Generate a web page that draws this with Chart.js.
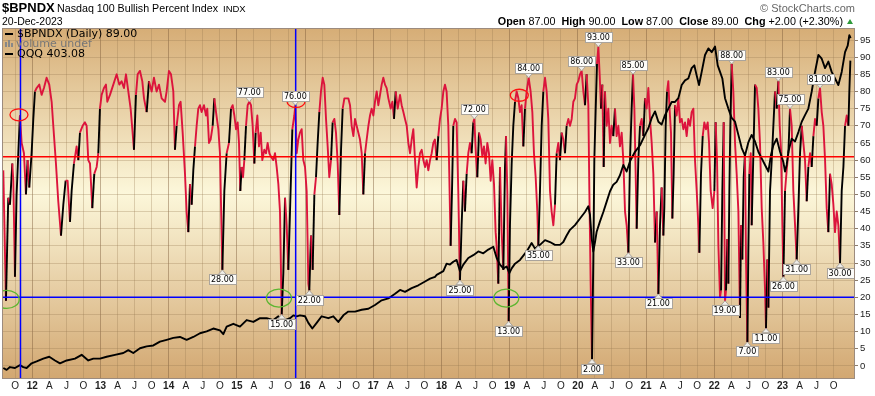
<!DOCTYPE html>
<html>
<head>
<meta charset="utf-8">
<script src="https://cdn.jsdelivr.net/npm/chart.js@4.4.1/dist/chart.umd.min.js"></script>
<style>
html, body { margin: 0; padding: 0; background: #fff; }
#wrap { position: relative; width: 875px; height: 396px; overflow: hidden; }
#c { position: absolute; left: 0; top: 0; }
.tx { position: absolute; white-space: nowrap; line-height: 1; color: #000; font-family: "Liberation Sans", Arial, sans-serif; }
.lg { font-family: "DejaVu Sans", Verdana, sans-serif; font-size: 11px; }
.dash { position: absolute; left: 5px; width: 8px; height: 2px; background: #000; }
.vb { position: absolute; width: 2px; background: #888; }
</style>
</head>
<body>
<div id="wrap">
  <canvas id="c" width="875" height="396"></canvas>
  <div class="tx" style="left:2px;top:0.7px;font-size:13px;font-weight:bold">$BPNDX</div>
  <div class="tx" style="left:57px;top:2.6px;font-size:10.7px">Nasdaq 100 Bullish Percent Index</div>
  <div class="tx" style="left:223px;top:3.7px;font-size:9.5px">INDX</div>
  <div class="tx" style="left:2px;top:16.1px;font-size:10.5px">20-Dec-2023</div>
  <div class="tx" style="right:20px;top:3.4px;font-size:11px;color:#666">© StockCharts.com</div>
  <div class="tx" style="right:32px;top:15.9px;font-size:10.8px"><b>Open</b> 87.00 &nbsp;<b>High</b> 90.00 &nbsp;<b>Low</b> 87.00 &nbsp;<b>Close</b> 89.00 &nbsp;<b>Chg</b> +2.00 (+2.30%)</div>
  <div style="position:absolute;left:847px;top:19px;width:0;height:0;border-left:3.5px solid transparent;border-right:3.5px solid transparent;border-bottom:5px solid #2f9a3a"></div>

  <div class="dash" style="top:33px"></div>
  <div class="tx lg" style="left:17px;top:28px">$BPNDX (Daily) 89.00</div>
  <div class="vb" style="left:5px;top:42px;height:5px"></div>
  <div class="vb" style="left:8px;top:40px;height:7px"></div>
  <div class="vb" style="left:11px;top:43px;height:4px"></div>
  <div class="tx lg" style="left:16px;top:38.2px;color:#777">volume undef</div>
  <div class="dash" style="top:53px"></div>
  <div class="tx lg" style="left:17px;top:48px">QQQ 403.08</div>
</div>
<script>
// $BPNDX daily, read at turning points (decimal year, percent)
const bpDates = [
  2011.575, 2011.614, 2011.648, 2011.673, 2011.707, 2011.722, 2011.746, 2011.770, 2011.795, 2011.819,
  2011.844, 2011.878, 2011.907, 2011.932, 2011.956, 2011.990, 2012.015, 2012.039, 2012.064, 2012.103,
  2012.137, 2012.171, 2012.210, 2012.249, 2012.284, 2012.308, 2012.347, 2012.381, 2012.421, 2012.455,
  2012.489, 2012.518, 2012.553, 2012.577, 2012.611, 2012.650, 2012.675, 2012.699, 2012.738, 2012.772,
  2012.797, 2012.821, 2012.846, 2012.880, 2012.909, 2012.944, 2012.968, 2012.992, 2013.017, 2013.051,
  2013.080, 2013.100, 2013.139, 2013.188, 2013.237, 2013.276, 2013.310, 2013.344, 2013.374, 2013.408,
  2013.442, 2013.467, 2013.491, 2013.520, 2013.545, 2013.579, 2013.613, 2013.638, 2013.677, 2013.711,
  2013.750, 2013.784, 2013.823, 2013.858, 2013.897, 2013.946, 2013.970, 2014.004, 2014.034, 2014.068,
  2014.092, 2014.117, 2014.151, 2014.175, 2014.205, 2014.239, 2014.263, 2014.288, 2014.312, 2014.337,
  2014.361, 2014.386, 2014.410, 2014.434, 2014.459, 2014.483, 2014.517, 2014.547, 2014.566, 2014.591,
  2014.615, 2014.645, 2014.669, 2014.694, 2014.728, 2014.752, 2014.787, 2014.816, 2014.850, 2014.884,
  2014.914, 2014.938, 2014.963, 2014.987, 2015.011, 2015.031, 2015.050, 2015.070, 2015.090, 2015.109,
  2015.134, 2015.158, 2015.182, 2015.207, 2015.231, 2015.256, 2015.275, 2015.300, 2015.324, 2015.349,
  2015.373, 2015.402, 2015.427, 2015.451, 2015.476, 2015.500, 2015.534, 2015.559, 2015.583, 2015.608,
  2015.632, 2015.657, 2015.681, 2015.706, 2015.730, 2015.754, 2015.779, 2015.813, 2015.842, 2015.857,
  2015.877, 2015.901, 2015.925, 2015.950, 2015.974, 2015.999, 2016.023, 2016.048, 2016.062, 2016.087,
  2016.111, 2016.136, 2016.160, 2016.184, 2016.209, 2016.233, 2016.258, 2016.282, 2016.307, 2016.331,
  2016.355, 2016.380, 2016.404, 2016.429, 2016.453, 2016.478, 2016.502, 2016.527, 2016.551, 2016.576,
  2016.610, 2016.634, 2016.659, 2016.683, 2016.708, 2016.732, 2016.756, 2016.781, 2016.805, 2016.830,
  2016.854, 2016.879, 2016.903, 2016.928, 2016.952, 2016.976, 2017.001, 2017.025, 2017.050, 2017.074,
  2017.099, 2017.123, 2017.147, 2017.172, 2017.196, 2017.221, 2017.255, 2017.280, 2017.304, 2017.328,
  2017.358, 2017.392, 2017.416, 2017.441, 2017.465, 2017.490, 2017.514, 2017.539, 2017.563, 2017.587,
  2017.612, 2017.636, 2017.661, 2017.685, 2017.710, 2017.734, 2017.759, 2017.783, 2017.807, 2017.832,
  2017.856, 2017.880, 2017.904, 2017.929, 2017.953, 2017.978, 2018.002, 2018.027, 2018.051, 2018.075,
  2018.100, 2018.114, 2018.134, 2018.154, 2018.173, 2018.198, 2018.222, 2018.246, 2018.271, 2018.295,
  2018.320, 2018.344, 2018.369, 2018.393, 2018.418, 2018.442, 2018.466, 2018.481, 2018.506, 2018.525,
  2018.550, 2018.574, 2018.599, 2018.623, 2018.647, 2018.672, 2018.696, 2018.721, 2018.745, 2018.770,
  2018.794, 2018.809, 2018.833, 2018.858, 2018.882, 2018.907, 2018.931, 2018.946, 2018.965, 2018.985,
  2019.004, 2019.029, 2019.053, 2019.078, 2019.102, 2019.127, 2019.151, 2019.175, 2019.200, 2019.224,
  2019.249, 2019.278, 2019.307, 2019.332, 2019.356, 2019.381, 2019.405, 2019.420, 2019.444, 2019.469,
  2019.493, 2019.518, 2019.542, 2019.566, 2019.591, 2019.615, 2019.640, 2019.664, 2019.689, 2019.713,
  2019.737, 2019.762, 2019.786, 2019.811, 2019.835, 2019.860, 2019.884, 2019.909, 2019.933, 2019.957,
  2019.982, 2020.006, 2020.031, 2020.055, 2020.080, 2020.104, 2020.128, 2020.153, 2020.168, 2020.187,
  2020.207, 2020.226, 2020.241, 2020.261, 2020.280, 2020.300, 2020.319, 2020.339, 2020.358, 2020.378,
  2020.397, 2020.422, 2020.446, 2020.471, 2020.495, 2020.519, 2020.544, 2020.568, 2020.593, 2020.617,
  2020.642, 2020.666, 2020.691, 2020.715, 2020.740, 2020.764, 2020.788, 2020.808, 2020.828, 2020.847,
  2020.862, 2020.886, 2020.911, 2020.935, 2020.960, 2020.984, 2021.008, 2021.033, 2021.057, 2021.082,
  2021.106, 2021.131, 2021.155, 2021.180, 2021.204, 2021.228, 2021.253, 2021.267, 2021.287, 2021.307,
  2021.326, 2021.341, 2021.365, 2021.385, 2021.404, 2021.424, 2021.448, 2021.473, 2021.497, 2021.522,
  2021.546, 2021.571, 2021.595, 2021.619, 2021.644, 2021.668, 2021.693, 2021.717, 2021.742, 2021.766,
  2021.781, 2021.805, 2021.830, 2021.854, 2021.878, 2021.903, 2021.923, 2021.947, 2021.976, 2022.001,
  2022.020, 2022.040, 2022.060, 2022.084, 2022.099, 2022.118, 2022.138, 2022.157, 2022.172, 2022.191,
  2022.206, 2022.221, 2022.235, 2022.255, 2022.279, 2022.304, 2022.328, 2022.353, 2022.377, 2022.392,
  2022.411, 2022.431, 2022.450, 2022.465, 2022.485, 2022.499, 2022.514, 2022.534, 2022.548, 2022.573,
  2022.597, 2022.622, 2022.646, 2022.670, 2022.695, 2022.719, 2022.744, 2022.758, 2022.778, 2022.793,
  2022.817, 2022.842, 2022.866, 2022.890, 2022.915, 2022.939, 2022.959, 2022.978, 2022.998, 2023.013,
  2023.037, 2023.061, 2023.086, 2023.110, 2023.135, 2023.159, 2023.184, 2023.208, 2023.233, 2023.257,
  2023.282, 2023.306, 2023.330, 2023.355, 2023.379, 2023.404, 2023.428, 2023.453, 2023.477, 2023.501,
  2023.526, 2023.550, 2023.575, 2023.599, 2023.624, 2023.648, 2023.672, 2023.697, 2023.721, 2023.746,
  2023.770, 2023.795, 2023.819, 2023.844, 2023.868, 2023.893, 2023.917, 2023.942, 2023.966, 2023.980,
  2023.995
];
const bpValues = [
  57, 19, 49, 47, 59, 54, 26, 50, 62, 73,
  65, 62, 50, 60, 52, 62, 72, 80, 81, 82,
  79, 81, 84, 82, 77, 70, 59, 48, 38, 47,
  54, 54, 42, 51, 59, 64, 60, 68, 70, 71,
  70, 60, 59, 46, 56, 58, 62, 75, 79, 81,
  82, 77, 79, 82, 85, 82, 83, 81, 85, 80,
  75, 69, 63, 79, 85, 86, 83, 78, 74, 83,
  80, 84, 80, 82, 78, 77, 80, 86, 85, 80,
  63, 70, 76, 77, 68, 56, 45, 39, 53, 47,
  57, 64, 70, 75, 76, 74, 76, 73, 75, 65,
  66, 70, 78, 74, 69, 62, 28, 51, 62, 65,
  75, 76, 73, 69, 71, 65, 51, 58, 55, 60,
  70, 76, 77, 76, 70, 59, 68, 73, 64, 68,
  60, 63, 62, 65, 62, 61, 60, 62, 58, 53,
  45, 15, 27, 49, 41, 28, 45, 69, 73, 76,
  62, 66, 68, 69, 60, 58, 51, 24, 22, 38,
  28, 50, 55, 65, 74, 80, 84, 82, 72, 64,
  55, 60, 71, 72, 68, 59, 44, 63, 75, 78,
  78, 78, 76, 70, 67, 72, 70, 68, 66, 62,
  50, 62, 66, 70, 73, 75, 73, 77, 80, 76,
  79, 82, 84, 82, 81, 78, 75, 77, 72, 80,
  75, 79, 76, 74, 72, 70, 65, 62, 66, 69,
  60, 52, 58, 62, 63, 60, 58, 60, 57, 60,
  62, 65, 66, 60, 67, 72, 75, 80, 82, 80,
  70, 56, 35, 51, 70, 72, 71, 51, 25, 41,
  54, 45, 56, 62, 65, 62, 71, 72, 61, 55,
  68, 66, 61, 64, 59, 65, 62, 54, 60, 53,
  39, 35, 24, 58, 39, 28, 58, 67, 51, 13,
  41, 59, 70, 77, 80, 78, 74, 76, 64, 75,
  80, 84, 80, 74, 62, 55, 45, 35, 51, 70,
  80, 84, 80, 72, 51, 45, 41, 47, 62, 65,
  60, 68, 66, 62, 70, 72, 70, 72, 77, 78,
  82, 83, 85, 86, 80, 76, 85, 76, 51, 24,
  2, 31, 60, 75, 88, 93, 85, 75, 82, 58,
  80, 70, 75, 65, 70, 67, 75, 67, 70, 64,
  68, 60, 45, 41, 33, 60, 75, 85, 75, 56,
  40, 60, 70, 72, 67, 78, 75, 81, 72, 65,
  56, 36, 45, 21, 41, 52, 38, 46, 70, 80,
  83, 76, 68, 43, 56, 76, 73, 78, 71, 72,
  69, 71, 67, 72, 70, 74, 75, 60, 51, 41,
  33, 56, 67, 71, 69, 71, 65, 51, 46, 51,
  71, 60, 35, 20, 22, 51, 71, 19, 22, 37,
  24, 51, 70, 88, 80, 65, 56, 45, 14, 41,
  31, 55, 62, 31, 7, 33, 56, 62, 41, 62,
  82, 81, 75, 65, 46, 36, 22, 11, 31, 17,
  51, 60, 70, 80, 75, 83, 70, 63, 41, 26,
  51, 57, 62, 75, 70, 51, 41, 31, 46, 62,
  70, 65, 60, 48, 58, 62, 58, 67, 72, 70,
  78, 81, 74, 70, 60, 46, 39, 56, 53, 47,
  39, 45, 41, 30, 51, 58, 70, 73, 70, 80,
  89
];

// QQQ closes (decimal year, USD)
const qqqDates = [
  2011.575, 2011.624, 2011.673, 2011.746, 2011.819, 2011.868, 2011.917, 2011.990, 2012.064, 2012.161,
  2012.249, 2012.333, 2012.406, 2012.504, 2012.626, 2012.724, 2012.821, 2012.895, 2012.992, 2013.090,
  2013.212, 2013.335, 2013.408, 2013.481, 2013.579, 2013.677, 2013.775, 2013.872, 2013.970, 2014.068,
  2014.165, 2014.263, 2014.361, 2014.459, 2014.557, 2014.654, 2014.752, 2014.801, 2014.850, 2014.948,
  2015.045, 2015.143, 2015.241, 2015.339, 2015.437, 2015.534, 2015.608, 2015.657, 2015.706, 2015.779,
  2015.828, 2015.877, 2015.925, 2015.999, 2016.048, 2016.106, 2016.170, 2016.243, 2016.341, 2016.414,
  2016.487, 2016.561, 2016.634, 2016.732, 2016.830, 2016.928, 2017.025, 2017.123, 2017.221, 2017.319,
  2017.392, 2017.465, 2017.563, 2017.661, 2017.759, 2017.832, 2017.905, 2017.929, 2018.027, 2018.075,
  2018.124, 2018.173, 2018.222, 2018.271, 2018.320, 2018.393, 2018.466, 2018.540, 2018.613, 2018.686,
  2018.760, 2018.809, 2018.858, 2018.907, 2018.955, 2018.995, 2019.029, 2019.078, 2019.151, 2019.249,
  2019.322, 2019.371, 2019.444, 2019.518, 2019.591, 2019.664, 2019.737, 2019.786, 2019.835, 2019.884,
  2019.957, 2020.031, 2020.104, 2020.153, 2020.177, 2020.202, 2020.226, 2020.251, 2020.275, 2020.324,
  2020.373, 2020.422, 2020.471, 2020.519, 2020.568, 2020.617, 2020.666, 2020.715, 2020.764, 2020.837,
  2020.911, 2020.984, 2021.033, 2021.082, 2021.131, 2021.180, 2021.228, 2021.277, 2021.326, 2021.375,
  2021.424, 2021.473, 2021.522, 2021.571, 2021.619, 2021.668, 2021.707, 2021.742, 2021.776, 2021.815,
  2021.864, 2021.913, 2021.962, 2022.011, 2022.050, 2022.084, 2022.118, 2022.157, 2022.206, 2022.255,
  2022.304, 2022.353, 2022.402, 2022.450, 2022.499, 2022.548, 2022.597, 2022.646, 2022.695, 2022.744,
  2022.793, 2022.832, 2022.866, 2022.915, 2022.964, 2023.013, 2023.037, 2023.061, 2023.086, 2023.135,
  2023.184, 2023.233, 2023.282, 2023.330, 2023.379, 2023.428, 2023.477, 2023.526, 2023.575, 2023.624,
  2023.672, 2023.721, 2023.770, 2023.819, 2023.868, 2023.917, 2023.956, 2023.980, 2023.999
];
const qqqValues = [
  52, 50, 53, 52, 55, 53, 52, 57, 59, 62,
  64, 60, 57, 60, 62, 66, 60, 62, 62, 64,
  66, 68, 71, 68, 73, 75, 76, 80, 82, 84,
  85, 82, 85, 89, 91, 94, 92, 88, 96, 99,
  96, 103, 101, 105, 105, 103, 107, 103, 103, 105,
  108, 107, 108, 107, 100, 94, 100, 107, 105, 107,
  101, 108, 112, 112, 114, 115, 119, 124, 126, 131,
  135, 133, 137, 140, 144, 147, 149, 151, 155, 163,
  162, 165, 167, 155, 162, 169, 172, 176, 174, 178,
  181, 169, 162, 158, 160, 153, 158, 163, 167, 176,
  185, 179, 183, 188, 186, 183, 183, 186, 193, 199,
  204, 211, 218, 224, 215, 190, 176, 186, 197, 208,
  218, 229, 240, 247, 250, 257, 268, 261, 272, 282,
  289, 300, 307, 318, 325, 314, 311, 321, 328, 335,
  335, 339, 353, 358, 360, 371, 374, 363, 353, 367,
  385, 392, 388, 394, 374, 367, 360, 339, 328, 318,
  314, 300, 286, 278, 292, 300, 293, 282, 275, 268,
  261, 279, 289, 296, 282, 271, 261, 268, 282, 296,
  293, 303, 314, 321, 328, 346, 367, 385, 381, 371,
  378, 367, 360, 353, 367, 388, 395, 406, 403
];

// value tags: highs (tag above) and lows (tag below)
const peakDates = [2015.182, 2015.857, 2018.481, 2019.278, 2020.055, 2020.300, 2020.808, 2022.255, 2022.939, 2023.110, 2023.550];
const peakValues = [77, 76, 72, 84, 86, 93, 85, 88, 83, 75, 81];
const troughDates = [2014.787, 2015.657, 2016.062, 2018.271, 2018.985, 2019.420, 2020.207, 2020.740, 2021.180, 2022.157, 2022.485, 2022.758, 2023.013, 2023.208, 2023.844];
const troughValues = [28, 15, 22, 25, 13, 35, 2, 33, 21, 19, 7, 11, 26, 31, 30];

// hand-drawn circles
const ringDates = [2011.805, 2011.625, 2015.617, 2015.867, 2018.950, 2019.141];
const ringValues = [73.2, 19.4, 19.8, 77.1, 19.8, 78.9];
const ringKinds = ['red', 'green', 'green', 'red', 'green', 'red'];

// drawn lines
const redLevel = 61;
const blueLevel = 20;
const blueDates = [2011.827, 2015.862];

const yTickValues = [0, 5, 10, 15, 20, 25, 30, 35, 40, 45, 50, 55, 60, 65, 70, 75, 80, 85, 90, 95];
const quarterLetters = ['', 'A', 'J', 'O'];
const firstQuarter = 2011.75;
const lastQuarter = 2023.75;

const RED = '#dc143c';
const FONT = '"Liberation Sans", Arial, sans-serif';

function toPoints(xs, ys) {
  return xs.map((x, i) => ({ x, y: ys[i] }));
}

function isYear(v) {
  return Math.abs(v - Math.round(v)) < 1e-6;
}

function drawTag(ctx, px, py, text, up) {
  ctx.font = '8px "DejaVu Sans", Verdana, sans-serif';
  const w = Math.round(ctx.measureText(text).width) + 4;
  const h = 10, t = 4.5;
  const bx = Math.round(px - w / 2) + 0.5;
  const by = up ? Math.round(py - t - h) + 0.5 : Math.round(py + t) + 0.5;
  ctx.beginPath();
  if (up) { ctx.moveTo(px - 4, py - t); ctx.lineTo(px + 4, py - t); ctx.lineTo(px, py); }
  else { ctx.moveTo(px - 4, py + t); ctx.lineTo(px + 4, py + t); ctx.lineTo(px, py); }
  ctx.closePath();
  ctx.fillStyle = '#efede8';
  ctx.fill();
  ctx.lineWidth = 1;
  ctx.strokeStyle = '#aaa49c';
  ctx.stroke();
  ctx.fillStyle = '#fdfcf9';
  ctx.fillRect(bx, by, w, h);
  ctx.strokeRect(bx, by, w, h);
  ctx.fillStyle = '#000';
  ctx.textAlign = 'center';
  ctx.textBaseline = 'middle';
  ctx.fillText(text, px, by + h / 2 + 0.5);
}

const decor = {
  id: 'decor',
  beforeDraw(chart) {
    const { ctx, chartArea: a } = chart;
    const g = ctx.createLinearGradient(0, a.top, 0, a.bottom);
    g.addColorStop(0, '#d6ad76');
    g.addColorStop(0.47, '#fcf7da');
    g.addColorStop(1, '#d2a771');
    ctx.save();
    ctx.fillStyle = g;
    ctx.fillRect(a.left, a.top, a.right - a.left, a.bottom - a.top);
    ctx.restore();
  },
  afterDatasetsDraw(chart) {
    const { ctx, chartArea: a, scales } = chart;
    const xs = scales.x, ys = scales.y;
    ctx.save();
    ctx.beginPath();
    ctx.rect(a.left, a.top, a.right - a.left, a.bottom - a.top);
    ctx.clip();

    ctx.lineWidth = 1.5;
    ctx.strokeStyle = '#ff0000';
    let yy = ys.getPixelForValue(redLevel);
    ctx.beginPath(); ctx.moveTo(a.left, yy); ctx.lineTo(a.right, yy); ctx.stroke();
    ctx.strokeStyle = '#0000ff';
    yy = ys.getPixelForValue(blueLevel);
    ctx.beginPath(); ctx.moveTo(a.left, yy); ctx.lineTo(a.right, yy); ctx.stroke();
    blueDates.forEach((d) => {
      const xx = xs.getPixelForValue(d);
      ctx.beginPath(); ctx.moveTo(xx, a.top); ctx.lineTo(xx, a.bottom); ctx.stroke();
    });

    ringDates.forEach((d, i) => {
      const red = ringKinds[i] === 'red';
      ctx.beginPath();
      ctx.ellipse(xs.getPixelForValue(d), ys.getPixelForValue(ringValues[i]), red ? 9 : 12.5, red ? 6 : 9, 0, 0, Math.PI * 2);
      ctx.lineWidth = 1.3;
      ctx.strokeStyle = red ? '#ff1010' : '#5cb630';
      ctx.stroke();
    });
    ctx.restore();

    ctx.save();
    peakDates.forEach((d, i) => drawTag(ctx, xs.getPixelForValue(d), ys.getPixelForValue(peakValues[i]), peakValues[i].toFixed(2), true));
    troughDates.forEach((d, i) => drawTag(ctx, xs.getPixelForValue(d), ys.getPixelForValue(troughValues[i]), troughValues[i].toFixed(2), false));
    ctx.lineWidth = 1;
    ctx.strokeStyle = '#9c8b7e';
    ctx.strokeRect(a.left + 0.5, a.top + 0.5, a.right - a.left - 1, a.bottom - a.top - 1);
    ctx.restore();
  }
};

const gridSoft = 'rgba(150,118,80,0.3)';
const gridYear = 'rgba(125,92,58,0.45)';

new Chart(document.getElementById('c'), {
  type: 'line',
  data: {
    datasets: [
      {
        label: 'QQQ',
        data: toPoints(qqqDates, qqqValues),
        yAxisID: 'yq',
        borderColor: '#000',
        borderWidth: 1.9,
        borderJoinStyle: 'round',
        pointRadius: 0,
        tension: 0
      },
      {
        label: '$BPNDX',
        data: toPoints(bpDates, bpValues),
        yAxisID: 'y',
        borderColor: RED,
        borderWidth: 1.9,
        borderJoinStyle: 'round',
        pointRadius: 0,
        tension: 0,
        segment: {
          // long up-legs in black, the rest in red
          borderColor: (c) => (c.p1.parsed.y - c.p0.parsed.y > 6 ? '#000' : RED)
        }
      }
    ]
  },
  options: {
    responsive: false,
    animation: false,
    devicePixelRatio: 1,
    layout: { padding: { left: 2, top: 28, right: 0, bottom: 0 } },
    plugins: { legend: { display: false }, tooltip: { enabled: false } },
    scales: {
      x: {
        type: 'linear',
        min: 2011.556,
        max: 2024.063,
        afterBuildTicks: (s) => {
          const t = [];
          for (let q = firstQuarter; q <= lastQuarter + 1e-6; q += 0.25) t.push({ value: Math.round(q * 100) / 100 });
          s.ticks = t;
        },
        afterFit: (s) => { s.height = 17; },
        border: { display: false },
        grid: {
          drawTicks: false,
          color: (c) => (c.tick && isYear(c.tick.value) ? gridYear : gridSoft)
        },
        ticks: {
          autoSkip: false,
          maxRotation: 0,
          padding: 1,
          color: '#222',
          font: (c) => ({ family: FONT, size: 10, weight: c.tick && isYear(c.tick.value) ? 'bold' : 'normal' }),
          callback: (v) => {
            if (isYear(v)) return String(Math.round(v) % 100).padStart(2, '0');
            return quarterLetters[Math.round((v - Math.floor(v)) * 4)];
          }
        }
      },
      y: {
        position: 'right',
        min: -3.8,
        max: 98.5,
        afterBuildTicks: (s) => { s.ticks = yTickValues.map((v) => ({ value: v })); },
        afterFit: (s) => { s.width = 20; },
        border: { display: false },
        grid: { color: gridSoft, tickLength: 3, tickColor: '#8c7c6c' },
        ticks: { autoSkip: false, padding: 2, color: '#222', font: { family: FONT, size: 9.5 } }
      },
      yq: {
        display: false,
        min: 40.3,
        max: 413.7
      }
    }
  },
  plugins: [decor]
});
</script>
</body>
</html>
